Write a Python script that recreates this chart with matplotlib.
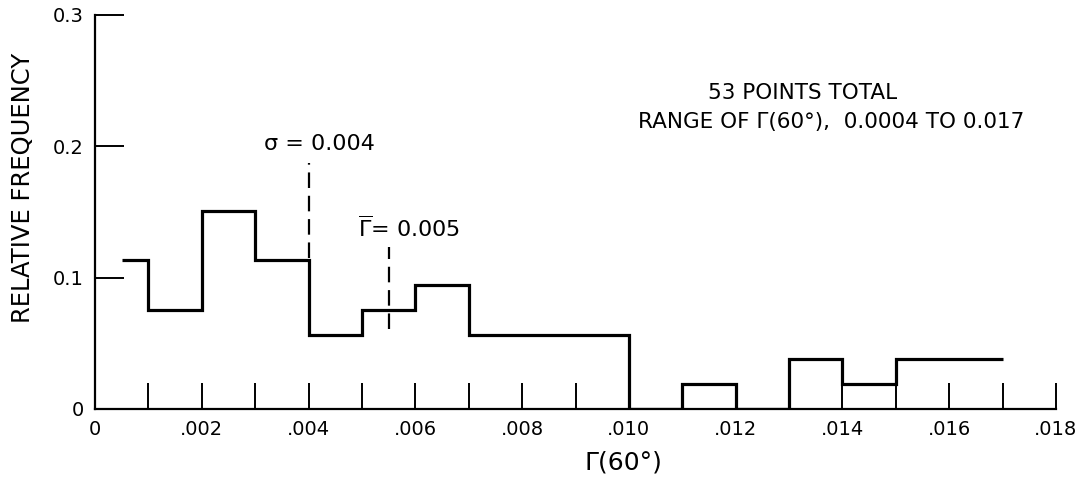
import matplotlib
matplotlib.use("Agg")
import matplotlib.pyplot as plt
import numpy as np
from matplotlib.ticker import FixedLocator, FuncFormatter

# ---- data ----
bin_edges = [0.0005, 0.001, 0.002, 0.003, 0.004, 0.005, 0.006, 0.007, 0.008,
             0.009, 0.010, 0.011, 0.012, 0.013, 0.014, 0.015, 0.016, 0.017]
counts = [6, 4, 8, 6, 3, 4, 5, 3, 3, 3, 0, 1, 0, 2, 1, 2, 2]
total_points = 53
rel_freq = [c / total_points for c in counts]

sigma_x = 0.004
sigma_span = (0.115, 0.187)
mean_x = 0.0055
mean_span = (0.061, 0.123)

x_major = [0.000, 0.002, 0.004, 0.006, 0.008, 0.010, 0.012, 0.014, 0.016, 0.018]
x_minor = [0.001, 0.003, 0.005, 0.007, 0.009, 0.011, 0.013, 0.015, 0.017]
y_ticks = [0.0, 0.1, 0.2, 0.3]

# ---- figure ----
fig = plt.figure(figsize=(10.83, 4.79), dpi=100)
ax = fig.add_axes([95 / 1083, 70 / 479, 961 / 1083, 394 / 479])

ax.stairs(rel_freq, bin_edges, baseline=None, color="black", linewidth=2.3)

ax.plot([sigma_x, sigma_x], sigma_span, color="black", linewidth=1.6,
        dashes=(7, 3.5))
ax.plot([mean_x, mean_x], mean_span, color="black", linewidth=1.6,
        dashes=(7, 3.5))

ax.set_xlim(0, 0.018)
ax.set_ylim(0, 0.3)

for s in ("top", "right"):
    ax.spines[s].set_visible(False)
for s in ("left", "bottom"):
    ax.spines[s].set_linewidth(1.6)

ax.xaxis.set_major_locator(FixedLocator(x_major))
ax.xaxis.set_minor_locator(FixedLocator(x_minor))
ax.yaxis.set_major_locator(FixedLocator(y_ticks))
ax.xaxis.set_major_formatter(FuncFormatter(
    lambda v, p: "0" if abs(v) < 1e-9 else ("%.3f" % v)[1:]))
ax.yaxis.set_major_formatter(FuncFormatter(
    lambda v, p: "0" if abs(v) < 1e-9 else "%.1f" % v))

ax.tick_params(axis="x", which="both", direction="in", length=19, width=1.4,
               pad=8, labelsize=14)
ax.tick_params(axis="y", which="both", direction="in", length=21, width=1.4,
               pad=8, labelsize=14)

ax.set_ylabel("RELATIVE FREQUENCY", fontsize=17.5)
ax.yaxis.set_label_coords(-60 / 961, 0.56)
ax.set_xlabel("Γ(60°)", fontsize=18)
ax.xaxis.set_label_coords(0.55, -0.105)

ax.text(0.00421, 0.202, "σ = 0.004", fontsize=16, ha="center", va="center")
ax.text(0.00588, 0.138, r"$\overline{\Gamma}$= 0.005", fontsize=16,
        ha="center", va="center")
ax.text(0.01326, 0.2407, "53 POINTS TOTAL", fontsize=15.5, ha="center",
        va="center")
ax.text(0.01378, 0.2186, "RANGE OF Γ(60°),  0.0004 TO 0.017", fontsize=15.5,
        ha="center", va="center")

fig.savefig("out.png", dpi=100)
